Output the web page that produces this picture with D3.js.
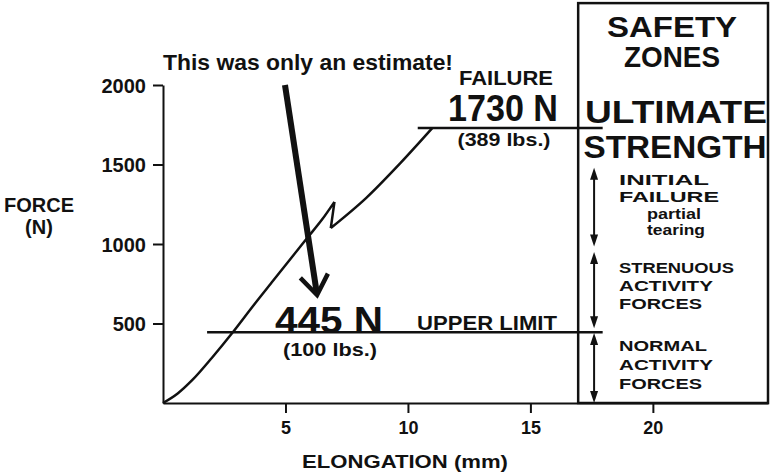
<!DOCTYPE html>
<html>
<head>
<meta charset="utf-8">
<script src="https://cdn.jsdelivr.net/npm/d3@7"></script>
<style>
  body { margin: 0; background: #fff; }
  svg { display: block; }
  text { font-family: "Liberation Sans", Arial, sans-serif; font-weight: bold; fill: #111; }
</style>
</head>
<body>
<svg id="chart" width="772" height="475"></svg>
<script>
// Données
const elongation = [0, 0.6, 1.2, 2.0, 2.85, 3.7, 4.5, 5.3, 5.9, 6.5, 7.0, 6.85, 8.3, 9.7, 11.0]
const force = [0, 60, 145, 285, 445, 615, 770, 925, 1040, 1155, 1265, 1100, 1290, 1510, 1730]
const xTicks = [5, 10, 15, 20]
const yTicks = [500, 1000, 1500, 2000]

// Niveaux (rupture / limite supérieure)
const levels = [1730, 445]
const levelStart = [10.4, 1.8]

// Zones de sécurité (flèches verticales)
const zoneTop = [1480, 950, 440]
const zoneBottom = [985, 470, 0]

const svg = d3.select("#chart")

svg.append("rect")
    .attr("width", 772)
    .attr("height", 475)
    .attr("fill", "#fff")

const x = d3.scaleLinear()
    .domain([0, 24.7])
    .range([163, 768])

const y = d3.scaleLinear()
    .domain([0, 2000])
    .range([403, 85])

// Axes
const xAxis = svg.append("g")
    .attr("transform", `translate(0, ${y(0)})`)
    .call(d3.axisBottom(x).tickValues(xTicks).tickSize(10).tickSizeOuter(0).tickPadding(8))
xAxis.selectAll("path, line").attr("stroke", "#111").attr("stroke-width", 2)
xAxis.selectAll("text")
    .attr("font-size", 18)
    .attr("font-family", null)
    .attr("fill", null)

const yAxis = svg.append("g")
    .attr("transform", `translate(${x(0)}, 0)`)
    .call(d3.axisLeft(y).tickValues(yTicks).tickFormat(d3.format("d")).tickSize(10).tickSizeOuter(0).tickPadding(7))
yAxis.selectAll("path, line").attr("stroke", "#111").attr("stroke-width", 2)
yAxis.selectAll("text")
    .attr("font-size", 20)
    .attr("font-family", null)
    .attr("fill", null)
    .attr("dy", "0.36em")

// Titres des axes
svg.append("text")
    .attr("x", 405)
    .attr("y", 468)
    .attr("text-anchor", "middle")
    .attr("font-size", 18.5)
    .attr("textLength", 206)
    .attr("lengthAdjust", "spacingAndGlyphs")
    .text("ELONGATION (mm)")

svg.append("text")
    .attr("x", 39)
    .attr("y", 212)
    .attr("text-anchor", "middle")
    .attr("font-size", 20)
    .text("FORCE")
svg.append("text")
    .attr("x", 39)
    .attr("y", 234)
    .attr("text-anchor", "middle")
    .attr("font-size", 20)
    .text("(N)")

// Courbe : partie lisse, petit décrochement, puis reprise
const pts = elongation.map((d, i) => [d, force[i]])
const kink = 10
const smooth = d3.line().x(d => x(d[0])).y(d => y(d[1])).curve(d3.curveMonotoneX)
const straight = d3.line().x(d => x(d[0])).y(d => y(d[1]))
const curveParts = [
    smooth(pts.slice(0, kink + 1)),
    straight(pts.slice(kink, kink + 2)),
    smooth(pts.slice(kink + 1))
]
svg.append("path")
    .attr("d", curveParts.join(" "))
    .attr("fill", "none")
    .attr("stroke", "#111")
    .attr("stroke-width", 2.5)
    .attr("stroke-linejoin", "round")

// Lignes horizontales
levels.forEach((lv, i) => {
    svg.append("line")
        .attr("x1", x(levelStart[i]))
        .attr("x2", x(17.95))
        .attr("y1", y(lv))
        .attr("y2", y(lv))
        .attr("stroke", "#111")
        .attr("stroke-width", 2.5)
})

// Boîte "safety zones"
svg.append("rect")
    .attr("x", x(16.95))
    .attr("y", y(2515))
    .attr("width", x(24.7) - x(16.95))
    .attr("height", y(0) - y(2515))
    .attr("fill", "none")
    .attr("stroke", "#111")
    .attr("stroke-width", 2.5)

const label = (txt, cx, base, size, len, anchor = "middle") => {
    svg.append("text")
        .attr("x", cx)
        .attr("y", base)
        .attr("text-anchor", anchor)
        .attr("font-size", size)
        .attr("textLength", len)
        .attr("lengthAdjust", "spacingAndGlyphs")
        .text(txt)
}
label("SAFETY", 672, 37, 30, 130)
label("ZONES", 672, 67, 30, 96)
label("ULTIMATE", 676, 123, 32, 182)
label("STRENGTH", 675, 158, 32, 183)

// Flèches doubles
const ax = x(17.6)
zoneTop.forEach((t, i) => {
    const y1 = y(t), y2 = y(zoneBottom[i])
    svg.append("line")
        .attr("x1", ax).attr("x2", ax)
        .attr("y1", y1 + 4).attr("y2", y2 - 4)
        .attr("stroke", "#111")
        .attr("stroke-width", 2)
    svg.append("path")
        .attr("d", `M${ax},${y1} L${ax - 4},${y1 + 12} L${ax + 4},${y1 + 12} Z`)
        .attr("fill", "#111")
    svg.append("path")
        .attr("d", `M${ax},${y2} L${ax - 4},${y2 - 12} L${ax + 4},${y2 - 12} Z`)
        .attr("fill", "#111")
})

const zoneLabels = [
    [["INITIAL", 185, 90], ["FAILURE", 202, 100]],
    [["STRENUOUS", 273, 115], ["ACTIVITY", 291, 94], ["FORCES", 309, 83]],
    [["NORMAL", 351, 88], ["ACTIVITY", 370, 94], ["FORCES", 389, 83]]
]
zoneLabels.forEach(z => {
    z.forEach(l => label(l[0], 619, l[1], 15.5, l[2], "start"))
})
label("partial", 647, 219, 14.5, 54, "start")
label("tearing", 647, 235, 14.5, 58, "start")

// Annotations
label("FAILURE", 506, 85, 20, 94)
label("1730 N", 503, 121, 37, 110)
label("(389 lbs.)", 504, 146, 18, 93)

label("445 N", 329, 333, 36, 108)
label("UPPER LIMIT", 487, 330, 20, 140)
label("(100 lbs.)", 330, 356, 18, 94)

label("This was only an estimate!", 163, 70, 21.5, 290, "start")

// Grosse flèche
const arrowFrom = [4.98, 2000]
const arrowTo = [6.29, 679]
const ax0 = x(arrowFrom[0]), ay0 = y(arrowFrom[1])
const ax1 = x(arrowTo[0]), ay1 = y(arrowTo[1])
const ang = Math.atan2(ay1 - ay0, ax1 - ax0)
svg.append("line")
    .attr("x1", ax0).attr("y1", ay0)
    .attr("x2", ax1 - 3 * Math.cos(ang)).attr("y2", ay1 - 3 * Math.sin(ang))
    .attr("stroke", "#111")
    .attr("stroke-width", 6)
const wing = 24, spread = 0.62
svg.append("path")
    .attr("d", `M${ax1 - wing * Math.cos(ang - spread)},${ay1 - wing * Math.sin(ang - spread)} L${ax1},${ay1} L${ax1 - wing * Math.cos(ang + spread)},${ay1 - wing * Math.sin(ang + spread)}`)
    .attr("fill", "none")
    .attr("stroke", "#111")
    .attr("stroke-width", 4.5)
    .attr("stroke-linejoin", "miter")
</script>
</body>
</html>
